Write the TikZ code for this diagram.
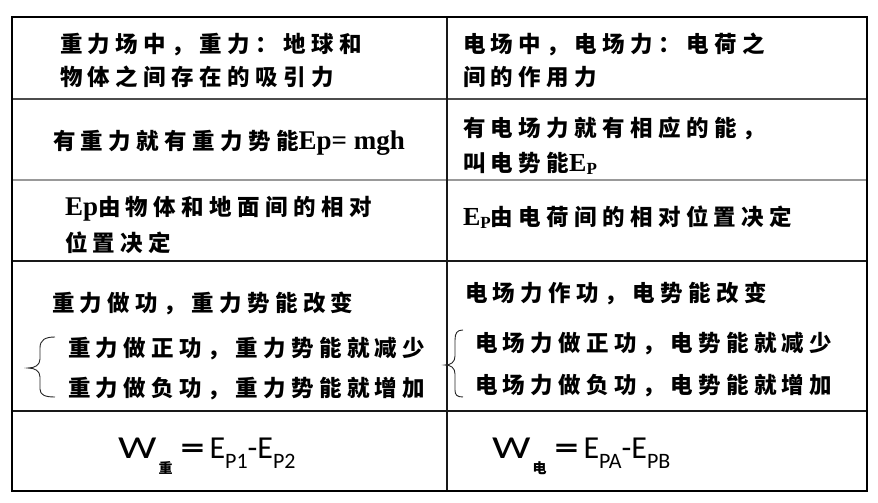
\documentclass[tikz,border=0pt]{standalone}
\usepackage{fontspec}
\newfontfamily\cjk[LetterSpace=24]{Noto Sans CJK SC}
\newfontfamily\tms{Liberation Serif}
\newfontfamily\fsans{Carlito}
\newcommand\zh[1]{{\cjk\bfseries\fontsize{22.5}{22.5}\selectfont #1}}
\newcommand\zhsub[1]{{\cjk\bfseries\fontsize{14}{14}\selectfont #1}}
\newcommand\tmsb[2]{{\tms\bfseries\fontsize{#1}{#1}\selectfont #2}}
\newcommand\EP{\tmsb{26}{E}\raisebox{-3pt}{\tmsb{17}{P}}}
\newcommand\fsub[1]{\raisebox{-10pt}{\fsans\fontsize{22}{22}\selectfont #1}}
\newcommand\feq{\hspace{8pt}{\bfseries\scalebox{1.5}[1]{=}}\hspace{5pt}}
\tikzset{
  txt/.style={anchor=base west, inner sep=0pt, outer sep=0pt},
  frm/.style={anchor=base west, inner sep=0pt, font=\fsans\fontsize{32}{32}\selectfont},
  outer/.style={line width=2pt, black},
  darkrule/.style={line width=1.6pt, black!90},
  midrule/.style={line width=1.2pt, black!70},
  lightrule/.style={line width=1.4pt, black!40},
  vrule/.style={line width=1.3pt, black!90},
  bracepath/.style={line width=0.9pt, black!85}
}
\begin{document}
\begin{tikzpicture}[x=1pt,y=-1pt]
\useasboundingbox (0,0) rectangle (878,503);
% table rules
\draw[midrule] (12,99) -- (867,99);
\draw[lightrule] (12,180) -- (867,180);
\draw[darkrule] (12,261) -- (867,261);
\draw[darkrule] (12,411) -- (867,411);
\draw[vrule] (447,17) -- (447,491);
\draw[outer] (12,17) rectangle (867,491);
% left column
\node[txt] (l1a) at (60,53) {\zh{重力场中，重力：地球和}};
\node[txt] (l1b) at (60,85) {\zh{物体之间存在的吸引力}};
\node[txt] (l2) at (53,149) {\zh{有重力就有重力势能}\tmsb{27}{Ep= mgh}};
\node[txt] (l3a) at (65,215) {\tmsb{27}{Ep}\zh{由物体和地面间的相对}};
\node[txt] (l3b) at (65,251) {\zh{位置决定}};
\node[txt] (l4a) at (52,311) {\zh{重力做功，重力势能改变}};
\node[txt] (l4b) at (68,356) {\zh{重力做正功，重力势能就减少}};
\node[txt] (l4c) at (68,396) {\zh{重力做负功，重力势能就增加}};
\node[frm] (l5) at (118,458) {\scalebox{1.35}[1]{W}\hspace{2pt}\raisebox{-15pt}{\zhsub{重}}\feq E\fsub{P1}-E\fsub{P2}};
% right column
\node[txt] (r1a) at (463,53) {\zh{电场中，电场力：电荷之}};
\node[txt] (r1b) at (463,85) {\zh{间的作用力}};
\node[txt] (r2a) at (463,136) {\zh{有电场力就有相应的能，}};
\node[txt] (r2b) at (463,171) {\zh{叫电势能}\EP};
\node[txt] (r3) at (463,225) {\EP\zh{由电荷间的相对位置决定}};
\node[txt] (r4a) at (465,301) {\zh{电场力作功，电势能改变}};
\node[txt] (r4b) at (475,351) {\zh{电场力做正功，电势能就减少}};
\node[txt] (r4c) at (475,393) {\zh{电场力做负功，电势能就增加}};
\node[frm] (r5) at (492,458) {\scalebox{1.35}[1]{W}\hspace{2pt}\raisebox{-15pt}{\zhsub{电}}\feq E\fsub{PA}-E\fsub{PB}};
% braces
\draw[bracepath] (55,337) .. controls (45,337) and (40,340) .. (40,348) -- (40,359)
  .. controls (40,365) and (35,368) .. (28,368)
  .. controls (35,368) and (40,371) .. (40,377) -- (40,389)
  .. controls (40,395) and (45,397) .. (55,397);
\draw[bracepath] (463,330) .. controls (457,330) and (455,333) .. (455,340) -- (455,356)
  .. controls (455,362) and (451,365) .. (445,365)
  .. controls (451,365) and (455,368) .. (455,374) -- (455,390)
  .. controls (455,395) and (457,397) .. (463,397);
\end{tikzpicture}
\end{document}
